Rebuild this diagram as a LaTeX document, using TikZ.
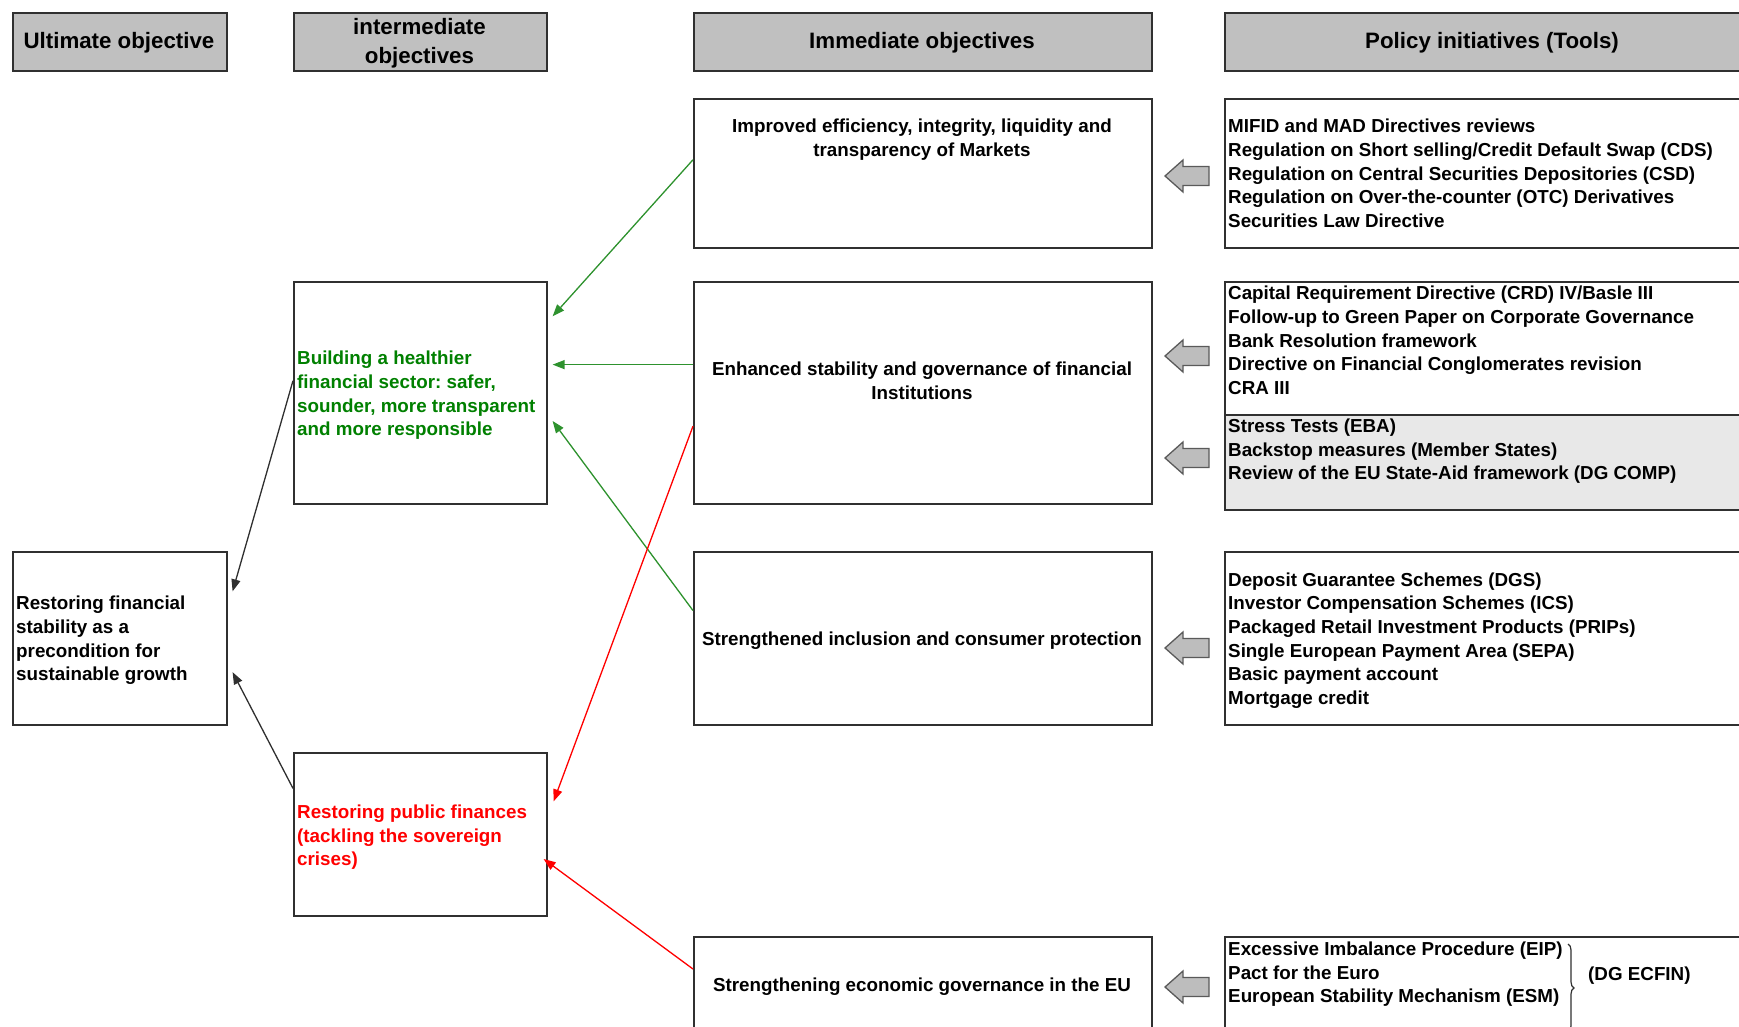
\documentclass[tikz,border=0pt]{standalone}
\usepackage{fontspec}
\setmainfont{Liberation Sans}
\usetikzlibrary{arrows.meta,calc,decorations.pathreplacing}
\frenchspacing

\definecolor{hdrgray}{HTML}{C0C0C0}
\definecolor{lightfill}{HTML}{E8E8E8}
\definecolor{frame}{HTML}{303030}
\definecolor{goodgreen}{HTML}{008000}
\definecolor{linkgreen}{HTML}{2E922E}
\definecolor{alarmred}{HTML}{FF0000}
\definecolor{arrowgray}{HTML}{BDBDBD}
\definecolor{arrowedge}{HTML}{5A5A5A}

\newcommand\hdrfont{\fontsize{22.3}{29}\selectfont\bfseries}
\newcommand\bodyfont{\fontsize{18.8}{23.7}\selectfont\bfseries}

\begin{document}
\begin{tikzpicture}[x=1pt,y=-1pt,
  frm/.style={draw=frame, line width=1.6pt, rectangle, inner sep=0pt, anchor=north west},
  hdr/.style={frm, fill=hdrgray},
  htxt/.style={inner sep=0pt, font=\hdrfont, align=center, anchor=center,
    execute at begin node=\strut, execute at end node=\strut},
  txt/.style={inner sep=0pt, font=\bodyfont,
    execute at begin node=\strut, execute at end node=\strut},
  ltxt/.style={txt, anchor=west, align=left},
  ctxt/.style={txt, anchor=center, align=center},
  link/.style={line width=1.3pt, -{Triangle[length=12pt,width=9pt]}},
  barrow/.style={draw=arrowedge, fill=arrowgray, line width=1.3pt, line join=miter},
  brc/.style={draw=frame, line width=1.2pt, decorate, decoration={brace, amplitude=6pt}}
]
\useasboundingbox (0,0) rectangle (1739,1027);
\clip (0,0) rectangle (1739,1027);

% column headers
\node[hdr, minimum width=214pt, minimum height=58pt] (h1) at (12,12) {};
\node[hdr, minimum width=253pt, minimum height=58pt] (h2) at (293,12) {};
\node[hdr, minimum width=458pt, minimum height=58pt] (h3) at (693,12) {};
\node[hdr, minimum width=536pt, minimum height=58pt] (h4) at (1224,12) {};
\node[htxt] (th1) at (119,42.5) {Ultimate objective};
\node[htxt] (th2) at (419.5,45) {intermediate\\objectives};
\node[htxt] (th3) at (922,42.5) {Immediate objectives};
\node[htxt] (th4) at (1492,42.5) {Policy initiatives (Tools)};

% frames
\node[frm, minimum width=458pt, minimum height=149pt] (i1) at (693,98) {};
\node[frm, minimum width=536pt, minimum height=149pt] (p1) at (1224,98) {};
\node[frm, minimum width=253pt, minimum height=222pt] (g1) at (293,281) {};
\node[frm, minimum width=458pt, minimum height=222pt] (i2) at (693,281) {};
\node[frm, minimum width=536pt, minimum height=133pt] (p2a) at (1224,281) {};
\node[frm, fill=lightfill, minimum width=536pt, minimum height=95pt] (p2b) at (1224,414) {};
\node[frm, minimum width=214pt, minimum height=173pt] (u) at (12,551) {};
\node[frm, minimum width=458pt, minimum height=173pt] (i3) at (693,551) {};
\node[frm, minimum width=536pt, minimum height=173pt] (p3) at (1224,551) {};
\node[frm, minimum width=253pt, minimum height=163pt] (r1) at (293,752) {};
\node[frm, minimum width=458pt, minimum height=144pt] (i4) at (693,936) {};
\node[frm, minimum width=536pt, minimum height=144pt] (p4) at (1224,936) {};

% texts
\node[ltxt] (tu) at (16,642) {Restoring financial\\stability as a\\precondition for\\sustainable growth};
\node[ltxt, text=goodgreen] (tg1) at (297,397) {Building a healthier\\financial sector: safer,\\sounder, more transparent\\and more responsible};
\node[ltxt, text=alarmred] (tr1) at (297,839) {Restoring public finances\\(tackling the sovereign\\crises)};

\node[ctxt] (ti1) at (922,141.5) {Improved efficiency, integrity, liquidity and\\transparency of Markets};
\node[ctxt] (ti2) at (922,384) {Enhanced stability and governance of financial\\Institutions};
\node[ctxt] (ti3) at (922,640.5) {Strengthened inclusion and consumer protection};
\node[ctxt] (ti4) at (922,986.5) {Strengthening economic governance in the EU};

\node[ltxt] (tp1) at (1228,177) {MIFID and MAD Directives reviews\\Regulation on Short selling/Credit Default Swap (CDS)\\Regulation on Central Securities Depositories (CSD)\\Regulation on Over-the-counter (OTC) Derivatives\\Securities Law Directive};
\node[ltxt] (tp2a) at (1228,344) {Capital Requirement Directive (CRD) IV/Basle III\\Follow-up to Green Paper on Corporate Governance\\Bank Resolution framework\\Directive on Financial Conglomerates revision\\CRA III};
\node[ltxt] (tp2b) at (1228,453) {Stress Tests (EBA)\\Backstop measures (Member States)\\Review of the EU State-Aid framework (DG COMP)};
\node[ltxt] (tp3) at (1228,642) {Deposit Guarantee Schemes (DGS)\\Investor Compensation Schemes (ICS)\\Packaged Retail Investment Products (PRIPs)\\Single European Payment Area (SEPA)\\Basic payment account\\Mortgage credit};
\node[ltxt] (tp4) at (1228,976) {Excessive Imbalance Procedure (EIP)\\Pact for the Euro\\European Stability Mechanism (ESM)};
\node[ltxt] (tecfin) at (1588,976) {(DG ECFIN)};

% brace grouping the ECFIN instruments
\coordinate (bt) at (1568,944);
\coordinate (bb) at (1568,1032);
\draw[brc] (bt) -- (bb);

% links between objectives
\draw[link, draw=linkgreen, fill=linkgreen]
  ($(i1.north west)!0.41!(i1.south west)$) -- ($(g1.north east)!0.158!(g1.south east)+(5,0)$);
\draw[link, draw=linkgreen, fill=linkgreen]
  ($(i2.north west)!0.374!(i2.south west)$) -- ($(g1.north east)!0.374!(g1.south east)+(5,0)$);
\draw[link, draw=linkgreen, fill=linkgreen]
  ($(i3.north west)!0.341!(i3.south west)$) -- ($(g1.north east)!0.626!(g1.south east)+(5,0)$);
\draw[link, draw=alarmred, fill=alarmred]
  ($(i2.north west)!0.649!(i2.south west)$) -- ($(r1.north east)!0.30!(r1.south east)+(6,0)$);
\draw[link, draw=alarmred, fill=alarmred]
  ($(i4.north west)+(0,33)$) -- ($(r1.north east)!0.65!(r1.south east)+(-4,0)$);
\draw[link, draw=frame, fill=frame]
  ($(g1.north west)!0.446!(g1.south west)$) -- ($(u.north east)!0.231!(u.south east)+(5,0)$);
\draw[link, draw=frame, fill=frame]
  ($(r1.north west)!0.221!(r1.south west)$) -- ($(u.north east)!0.694!(u.south east)+(5,0)$);

% block arrows from tools to objectives
\coordinate (a1) at (1165,176);
\coordinate (a2) at (1165,356);
\coordinate (a3) at (1165,458);
\coordinate (a4) at (1165,648);
\coordinate (a5) at (1165,987);
\foreach \t in {a1,a2,a3,a4,a5}{
  \draw[barrow] (\t) -- ++(18,-16) -- ++(0,6.5) -- ++(26,0) -- ++(0,19)
    -- ++(-26,0) -- ++(0,6.5) -- cycle;
}
\end{tikzpicture}
\end{document}
